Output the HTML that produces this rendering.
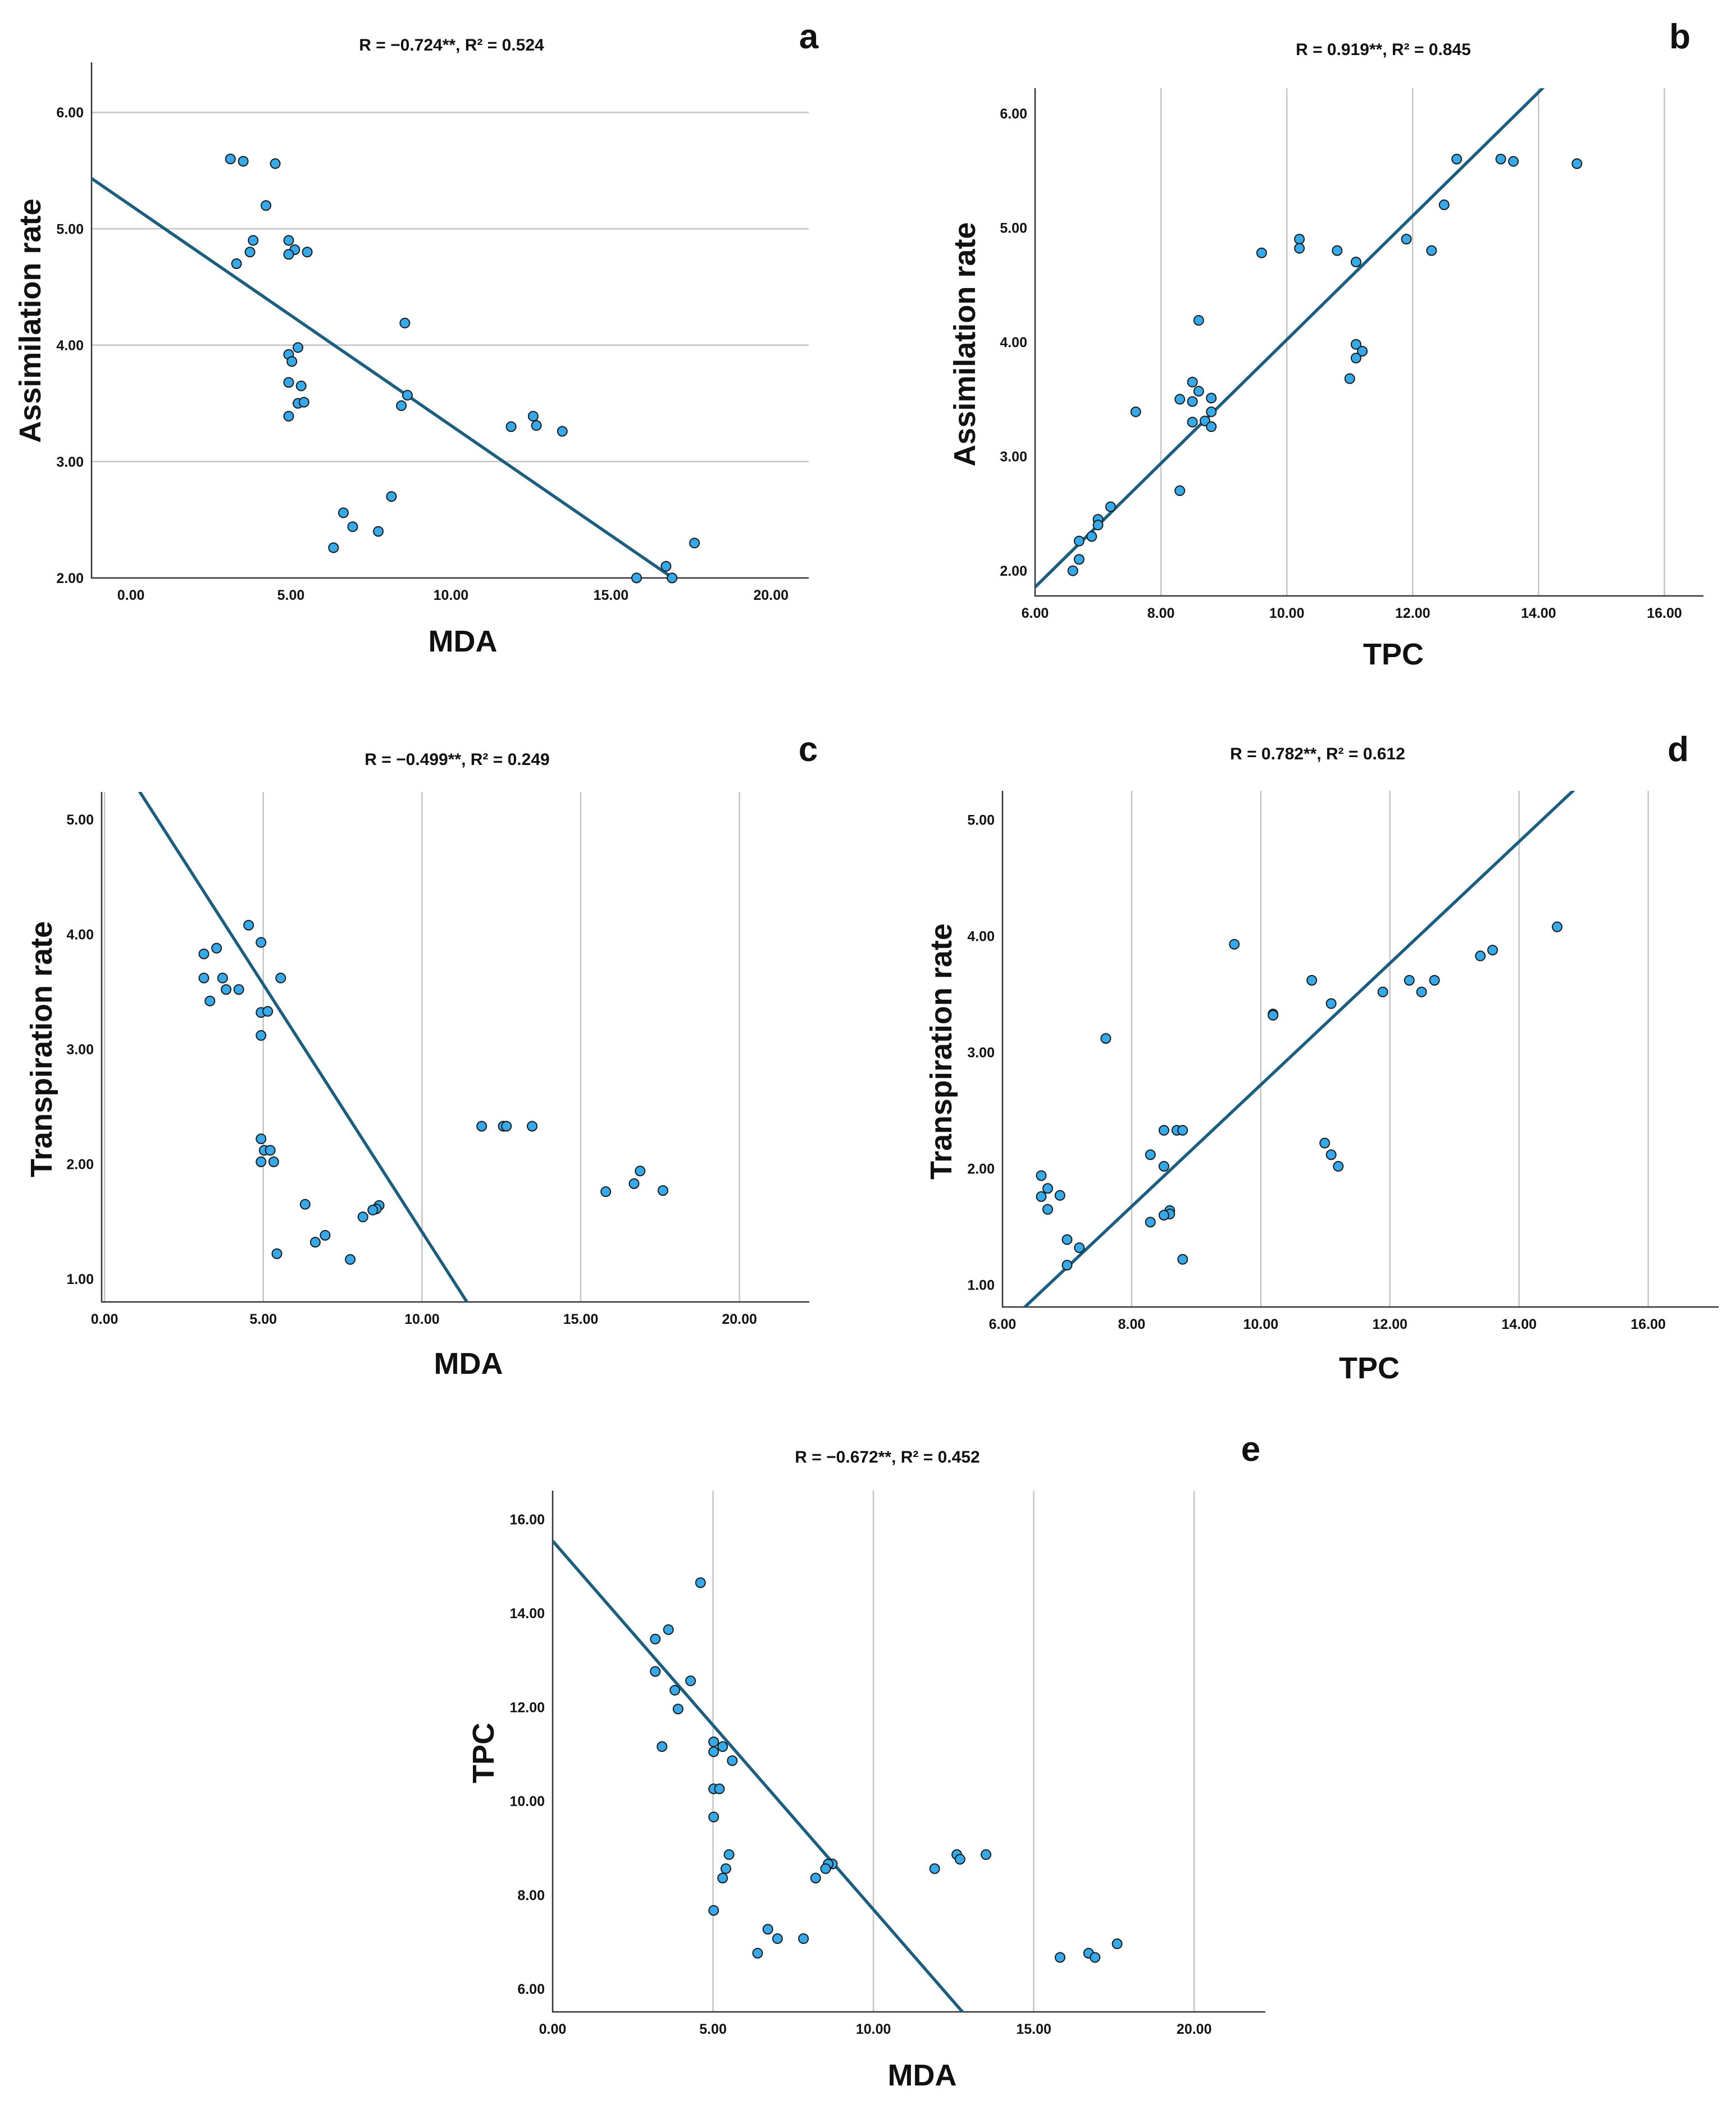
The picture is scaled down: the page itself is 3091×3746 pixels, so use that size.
<!DOCTYPE html>
<html><head><meta charset="utf-8">
<style>
html,body{margin:0;padding:0;background:#fff;width:3091px;height:3746px;overflow:hidden;}
svg{display:block;position:absolute;left:0;top:0;}
.tick{font-family:"Liberation Sans Narrow","Liberation Sans",sans-serif;font-weight:bold;font-size:25px;fill:#111;}
.ttl{font-family:"Liberation Sans Narrow","Liberation Sans",sans-serif;font-weight:bold;font-size:30px;fill:#111;}
.axt{font-family:"Liberation Sans",sans-serif;font-weight:bold;font-size:54px;fill:#111;}
.lett{font-family:"Liberation Sans",sans-serif;font-weight:bold;font-size:62px;fill:#111;}
</style></head>
<body>
<svg id="fig" width="3091" height="3746" viewBox="0 0 3091 3746" xmlns="http://www.w3.org/2000/svg"></svg>
<script>
// Panel a: MDA vs Assimilation rate
const aX=[3.11,3.51,4.51,4.22,3.82,3.72,3.30,4.93,5.12,4.93,5.51,8.56,5.22,4.93,5.03,4.93,5.32,5.22,5.41,4.93,8.64,8.45,11.88,12.57,12.67,13.48,8.14,6.64,6.93,7.73,6.33,17.61,16.72,15.80,16.91];
const aY=[5.60,5.58,5.56,5.20,4.90,4.80,4.70,4.90,4.82,4.78,4.80,4.19,3.98,3.92,3.86,3.68,3.65,3.50,3.51,3.39,3.57,3.48,3.30,3.39,3.31,3.26,2.70,2.56,2.44,2.40,2.26,2.30,2.10,2.00,2.00];
// Panel b: TPC vs Assimilation rate
const bX=[12.70,13.40,13.60,14.61,12.50,11.90,12.30,10.20,10.20,9.60,10.80,11.10,8.60,11.10,11.20,11.10,11.00,8.50,8.60,8.80,8.30,8.50,7.60,8.80,8.50,8.70,8.80,8.30,7.20,7.00,7.00,6.90,6.70,6.70,6.60];
const bY=[5.60,5.60,5.58,5.56,5.20,4.90,4.80,4.90,4.82,4.78,4.80,4.70,4.19,3.98,3.92,3.86,3.68,3.65,3.57,3.51,3.50,3.48,3.39,3.39,3.30,3.31,3.26,2.70,2.56,2.45,2.40,2.30,2.26,2.10,2.00];
// Panel c: MDA vs Transpiration rate
const cX=[4.54,4.93,3.53,3.13,3.13,3.72,5.55,3.83,4.23,3.32,4.93,5.14,4.93,11.88,12.56,12.66,13.47,4.93,5.03,5.22,4.93,5.33,16.87,16.68,15.79,17.59,6.32,8.65,8.56,8.45,8.14,6.95,6.64,5.43,7.74];
const cY=[4.08,3.93,3.88,3.83,3.62,3.62,3.62,3.52,3.52,3.42,3.32,3.33,3.12,2.33,2.33,2.33,2.33,2.22,2.12,2.12,2.02,2.02,1.94,1.83,1.76,1.77,1.65,1.64,1.61,1.60,1.54,1.38,1.32,1.22,1.17];
// Panel d: TPC vs Transpiration rate
const dX=[14.59,13.59,13.40,9.59,10.79,12.30,12.69,11.89,12.49,11.09,10.19,10.19,7.60,8.50,8.70,8.79,10.99,11.09,11.20,8.29,8.50,6.60,6.70,6.60,6.89,6.70,8.59,8.59,8.50,8.29,7.00,7.19,7.00,8.79];
const dY=[4.08,3.88,3.83,3.93,3.62,3.62,3.62,3.52,3.52,3.42,3.33,3.32,3.12,2.33,2.33,2.33,2.22,2.12,2.02,2.12,2.02,1.94,1.83,1.76,1.77,1.65,1.64,1.61,1.60,1.54,1.39,1.32,1.17,1.22];
// Panel e: MDA vs TPC
const eX=[4.61,3.61,3.20,3.20,4.30,3.81,3.91,3.41,5.02,5.30,5.02,5.60,5.02,5.20,5.02,5.50,5.40,5.30,5.02,8.72,8.59,8.51,8.20,11.91,12.60,12.70,13.51,6.71,7.01,7.82,6.39,17.60,16.71,15.82,16.91];
const eY=[14.65,13.65,13.45,12.76,12.56,12.36,11.96,11.16,11.26,11.16,11.05,10.86,10.26,10.26,9.66,8.86,8.56,8.36,7.67,8.66,8.66,8.56,8.36,8.56,8.86,8.76,8.86,7.27,7.07,7.07,6.76,6.96,6.76,6.67,6.67];
// Fit lines: intercept, slope
const fitIntercepts=[5.20,-1.389,5.72,-2.509,15.54];
const fitSlopes=[-0.189,0.541,-0.431,0.523,-0.785];
const statLabels=["R = \u22120.724**, R\u00B2 = 0.524","R = 0.919**, R\u00B2 = 0.845","R = \u22120.499**, R\u00B2 = 0.249","R = 0.782**, R\u00B2 = 0.612","R = \u22120.672**, R\u00B2 = 0.452"];
const xTicksMDA=[0,5,10,15,20];
const xTicksTPC=[6,8,10,12,14,16];
const yTicksA=[2,3,4,5,6];
const yTicksE=[1,2,3,4,5];
const yTicksT=[6,8,10,12,14,16];

const NS="http://www.w3.org/2000/svg";
const svg=document.getElementById('fig');
function mk(tag,attrs,parent){const e=document.createElementNS(NS,tag);for(const k in attrs)e.setAttribute(k,attrs[k]);(parent||svg).appendChild(e);return e;}

function panel(id,P,xs,ys,fi,xt,yt,grid,xlab,ylab,letter){
  const g=mk('g',{});
  
  
  const sx=v=>P.l+(v-P.x0)/(P.x1-P.x0)*(P.r-P.l);
  const sy=v=>P.b-(v-P.y0)/(P.y1-P.y0)*(P.b-P.t);
  if(grid==='h'){yt.forEach(v=>{if(Math.abs(sy(v)-P.b)<3)return;const ln=mk('line',{x1:P.l,x2:P.r,y1:sy(v),y2:sy(v),stroke:'#c4c4c4','stroke-width':2.5},g);});}
  else{xt.forEach(v=>{if(Math.abs(sx(v)-P.l)<3)return;const ln=mk('line',{x1:sx(v),x2:sx(v),y1:P.t,y2:P.b,stroke:'#c4c4c4','stroke-width':2.5},g);});}
  const ax=mk('path',{d:`M${P.l},${P.t}V${P.b}H${P.r}`,fill:'none',stroke:'#333','stroke-width':2.5},g);
  
  xt.forEach(v=>{const t=mk('text',{x:sx(v),y:P.b+39,'text-anchor':'middle',class:'tick'},g);t.textContent=v.toFixed(2);
    });
  yt.forEach(v=>{const t=mk('text',{x:P.l-14,y:sy(v)+9,'text-anchor':'end',class:'tick'},g);t.textContent=v.toFixed(2);
    });
  const cp=mk('clipPath',{id:'clip'+id},g);mk('rect',{x:P.l,y:P.t,width:P.r-P.l,height:P.b-P.t},cp);
  const a=fitIntercepts[fi],s=fitSlopes[fi];
  const fl=mk('line',{x1:sx(P.x0),y1:sy(a+s*P.x0),x2:sx(P.x1),y2:sy(a+s*P.x1),stroke:'#1b5e7f','stroke-width':5.5,'clip-path':`url(#clip${id})`},g);
  
  xs.forEach((v,i)=>{const c=mk('circle',{cx:sx(v),cy:sy(ys[i]),r:8.5,fill:'#36a9ea',stroke:'#1a1a1a','stroke-width':2},g);
    });
  const tt=mk('text',{x:P.tx,y:P.ty,'text-anchor':'middle',class:'ttl'},g);tt.textContent=statLabels[fi];
  
  const lt=mk('text',{x:P.lx,y:P.ly,'text-anchor':'middle',class:'lett'},g);lt.textContent=letter;
  
  const xl=mk('text',{x:P.xlx,y:P.xly,'text-anchor':'middle',class:'axt'},g);xl.textContent=xlab;
  
  const yl=mk('text',{x:0,y:0,'text-anchor':'middle',class:'axt',transform:`translate(${P.ylx},${P.yly}) rotate(-90)`},g);yl.textContent=ylab;
  
}

panel('a',{l:163,r:1440,t:111,b:1029,x0:-1.23,x1:21.18,y0:2,y1:6.43,tx:804,ty:90,lx:1440,ly:86,xlx:824,xly:1160,ylx:72,yly:571},aX,aY,0,xTicksMDA,yTicksA,'h','MDA','Assimilation rate','a');
panel('b',{l:1843,r:3033,t:157,b:1061,x0:6,x1:16.62,y0:1.78,y1:6.22,tx:2463,ty:98,lx:2991,ly:86,xlx:2481,xly:1183,ylx:1736,yly:613},bX,bY,1,xTicksTPC,yTicksA,'v','TPC','Assimilation rate','b');
panel('c',{l:181,r:1441,t:1410,b:2318,x0:-0.09,x1:22.2,y0:0.80,y1:5.24,tx:814,ty:1362,lx:1439,ly:1355,xlx:834,xly:2446,ylx:92,yly:1868},cX,cY,2,xTicksMDA,yTicksE,'v','MDA','Transpiration rate','c');
panel('d',{l:1785,r:3060,t:1408,b:2327,x0:6,x1:17.09,y0:0.81,y1:5.25,tx:2346,ty:1352,lx:2988,ly:1355,xlx:2438,xly:2454,ylx:1694,yly:1872},dX,dY,3,xTicksTPC,yTicksE,'v','TPC','Transpiration rate','d');
panel('e',{l:984,r:2253,t:2654,b:3582,x0:0,x1:22.22,y0:5.51,y1:16.61,tx:1580,ty:2604,lx:2227,ly:2601,xlx:1642,xly:3713,ylx:879,yly:3121},eX,eY,4,xTicksMDA,yTicksT,'v','MDA','TPC','e');
</script>
</body></html>
